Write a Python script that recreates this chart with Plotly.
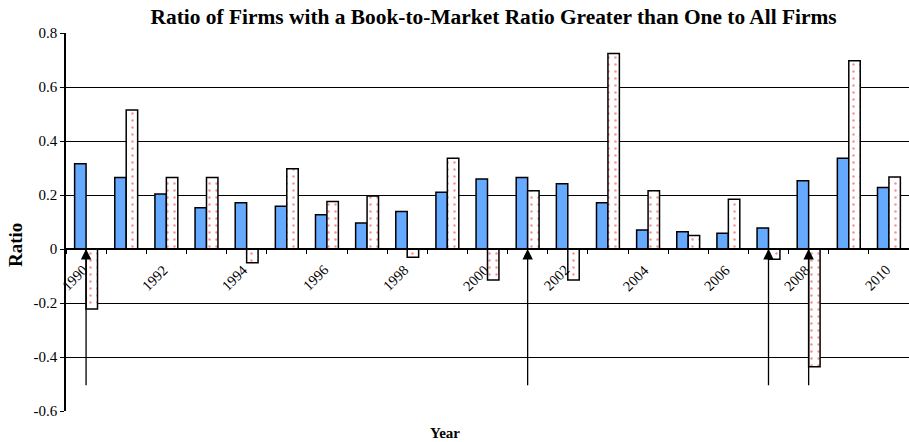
import plotly.graph_objects as go

years = list(range(1990, 2011))
ratio_blue = [0.316, 0.265, 0.204, 0.153, 0.171, 0.158, 0.127, 0.096, 0.139, 0.210,
              0.259, 0.265, 0.242, 0.171, 0.070, 0.064, 0.058, 0.078, 0.253, 0.336, 0.228]
ratio_change = [-0.222, 0.515, 0.265, 0.265, -0.051, 0.297, 0.176, 0.196, -0.031, 0.336,
                -0.115, 0.216, -0.115, 0.724, 0.216, 0.050, 0.184, -0.038, -0.436, 0.697, 0.267]
arrow_years = [1990, 2001, 2007, 2008]
arrow_base = -0.51
label_years = list(range(1990, 2011, 2))

FONT = "Liberation Serif"
Y_LO, Y_HI = -0.6, 0.8
X_RANGE = [1989.5, 2010.5]

fig = go.Figure()
fig.add_trace(go.Bar(
    x=years, y=ratio_blue, name="Ratio",
    marker=dict(color="#66AAFF", line=dict(color="black", width=1.5)),
))
fig.add_trace(go.Bar(
    x=years, y=ratio_change, name="Change",
    marker=dict(color="white", line=dict(color="black", width=1.5),
                pattern=dict(shape=".", fgcolor="#FF2020", bgcolor="white",
                             size=7, solidity=0.1)),
))

for yr in arrow_years:
    fig.add_annotation(x=yr, y=0, ax=yr, ay=arrow_base, xref="x", yref="y",
                       axref="x", ayref="y", text="", showarrow=True,
                       arrowhead=2, arrowsize=1.6, arrowwidth=1.3, arrowcolor="black")

# year tick labels, rotated, hanging below the zero line (axis crosses at 0)
for yr in label_years:
    fig.add_annotation(x=yr, y=0, xref="x", yref="y", text=str(yr), textangle=-45,
                       xanchor="right", yanchor="top", xshift=7, yshift=-10,
                       showarrow=False, font=dict(family=FONT, size=14.5, color="black"))

fig.add_annotation(text="<b>Year</b>", x=0.45, xref="paper", y=-0.058, yref="paper",
                   yanchor="middle", xanchor="center",
                   showarrow=False, font=dict(family=FONT, size=15, color="black"))
fig.add_annotation(text="<b>Ratio</b>", x=-0.0605, xref="paper", y=0.439, yref="paper",
                   yanchor="middle", xanchor="center", textangle=-90,
                   showarrow=False, font=dict(family=FONT, size=19, color="black"))

zero_pos = -Y_LO / (Y_HI - Y_LO)

fig.update_layout(
    width=909, height=442,
    margin=dict(l=66, r=0, t=33, b=31),
    paper_bgcolor="white", plot_bgcolor="white",
    barmode="group", bargap=0.43, bargroupgap=0,
    showlegend=False,
    font=dict(family=FONT, color="black"),
    title=dict(text="<b>Ratio of Firms with a Book-to-Market Ratio Greater than One to All Firms</b>",
               x=0.543, xanchor="center", y=0.962, yanchor="middle",
               font=dict(family=FONT, size=21.4, color="black")),
    xaxis=dict(
        type="linear", range=X_RANGE, anchor="free", position=zero_pos, automargin=False,
        showticklabels=False, ticks="",
        showline=True, linecolor="black", linewidth=1.5, showgrid=False, zeroline=False,
        minor=dict(tickmode="array", tickvals=[y - 0.5 for y in years] + [2010.5],
                   ticks="outside", ticklen=4, tickcolor="black", tickwidth=1, showgrid=False),
    ),
    xaxis2=dict(
        type="linear", range=X_RANGE, anchor="y", overlaying="x", side="bottom",
        showline=True, mirror=True, linecolor="black", linewidth=1.2, automargin=False,
        showticklabels=False, ticks="", showgrid=False, zeroline=False,
    ),
    yaxis=dict(
        range=[Y_LO, Y_HI], domain=[0, 1], automargin=False, tickmode="array",
        tickvals=[-0.6, -0.4, -0.2, 0, 0.2, 0.4, 0.6, 0.8],
        ticktext=["-0.6", "-0.4", "-0.2", "0", "0.2", "0.4", "0.6", "0.8"],
        ticks="outside", ticklen=4, tickcolor="black",
        tickfont=dict(family=FONT, size=15, color="black"),
        showline=True, linecolor="black", linewidth=1.5,
        showgrid=True, gridcolor="black", gridwidth=1.2, zeroline=False,
    ),
)

fig.write_html("out.html")
